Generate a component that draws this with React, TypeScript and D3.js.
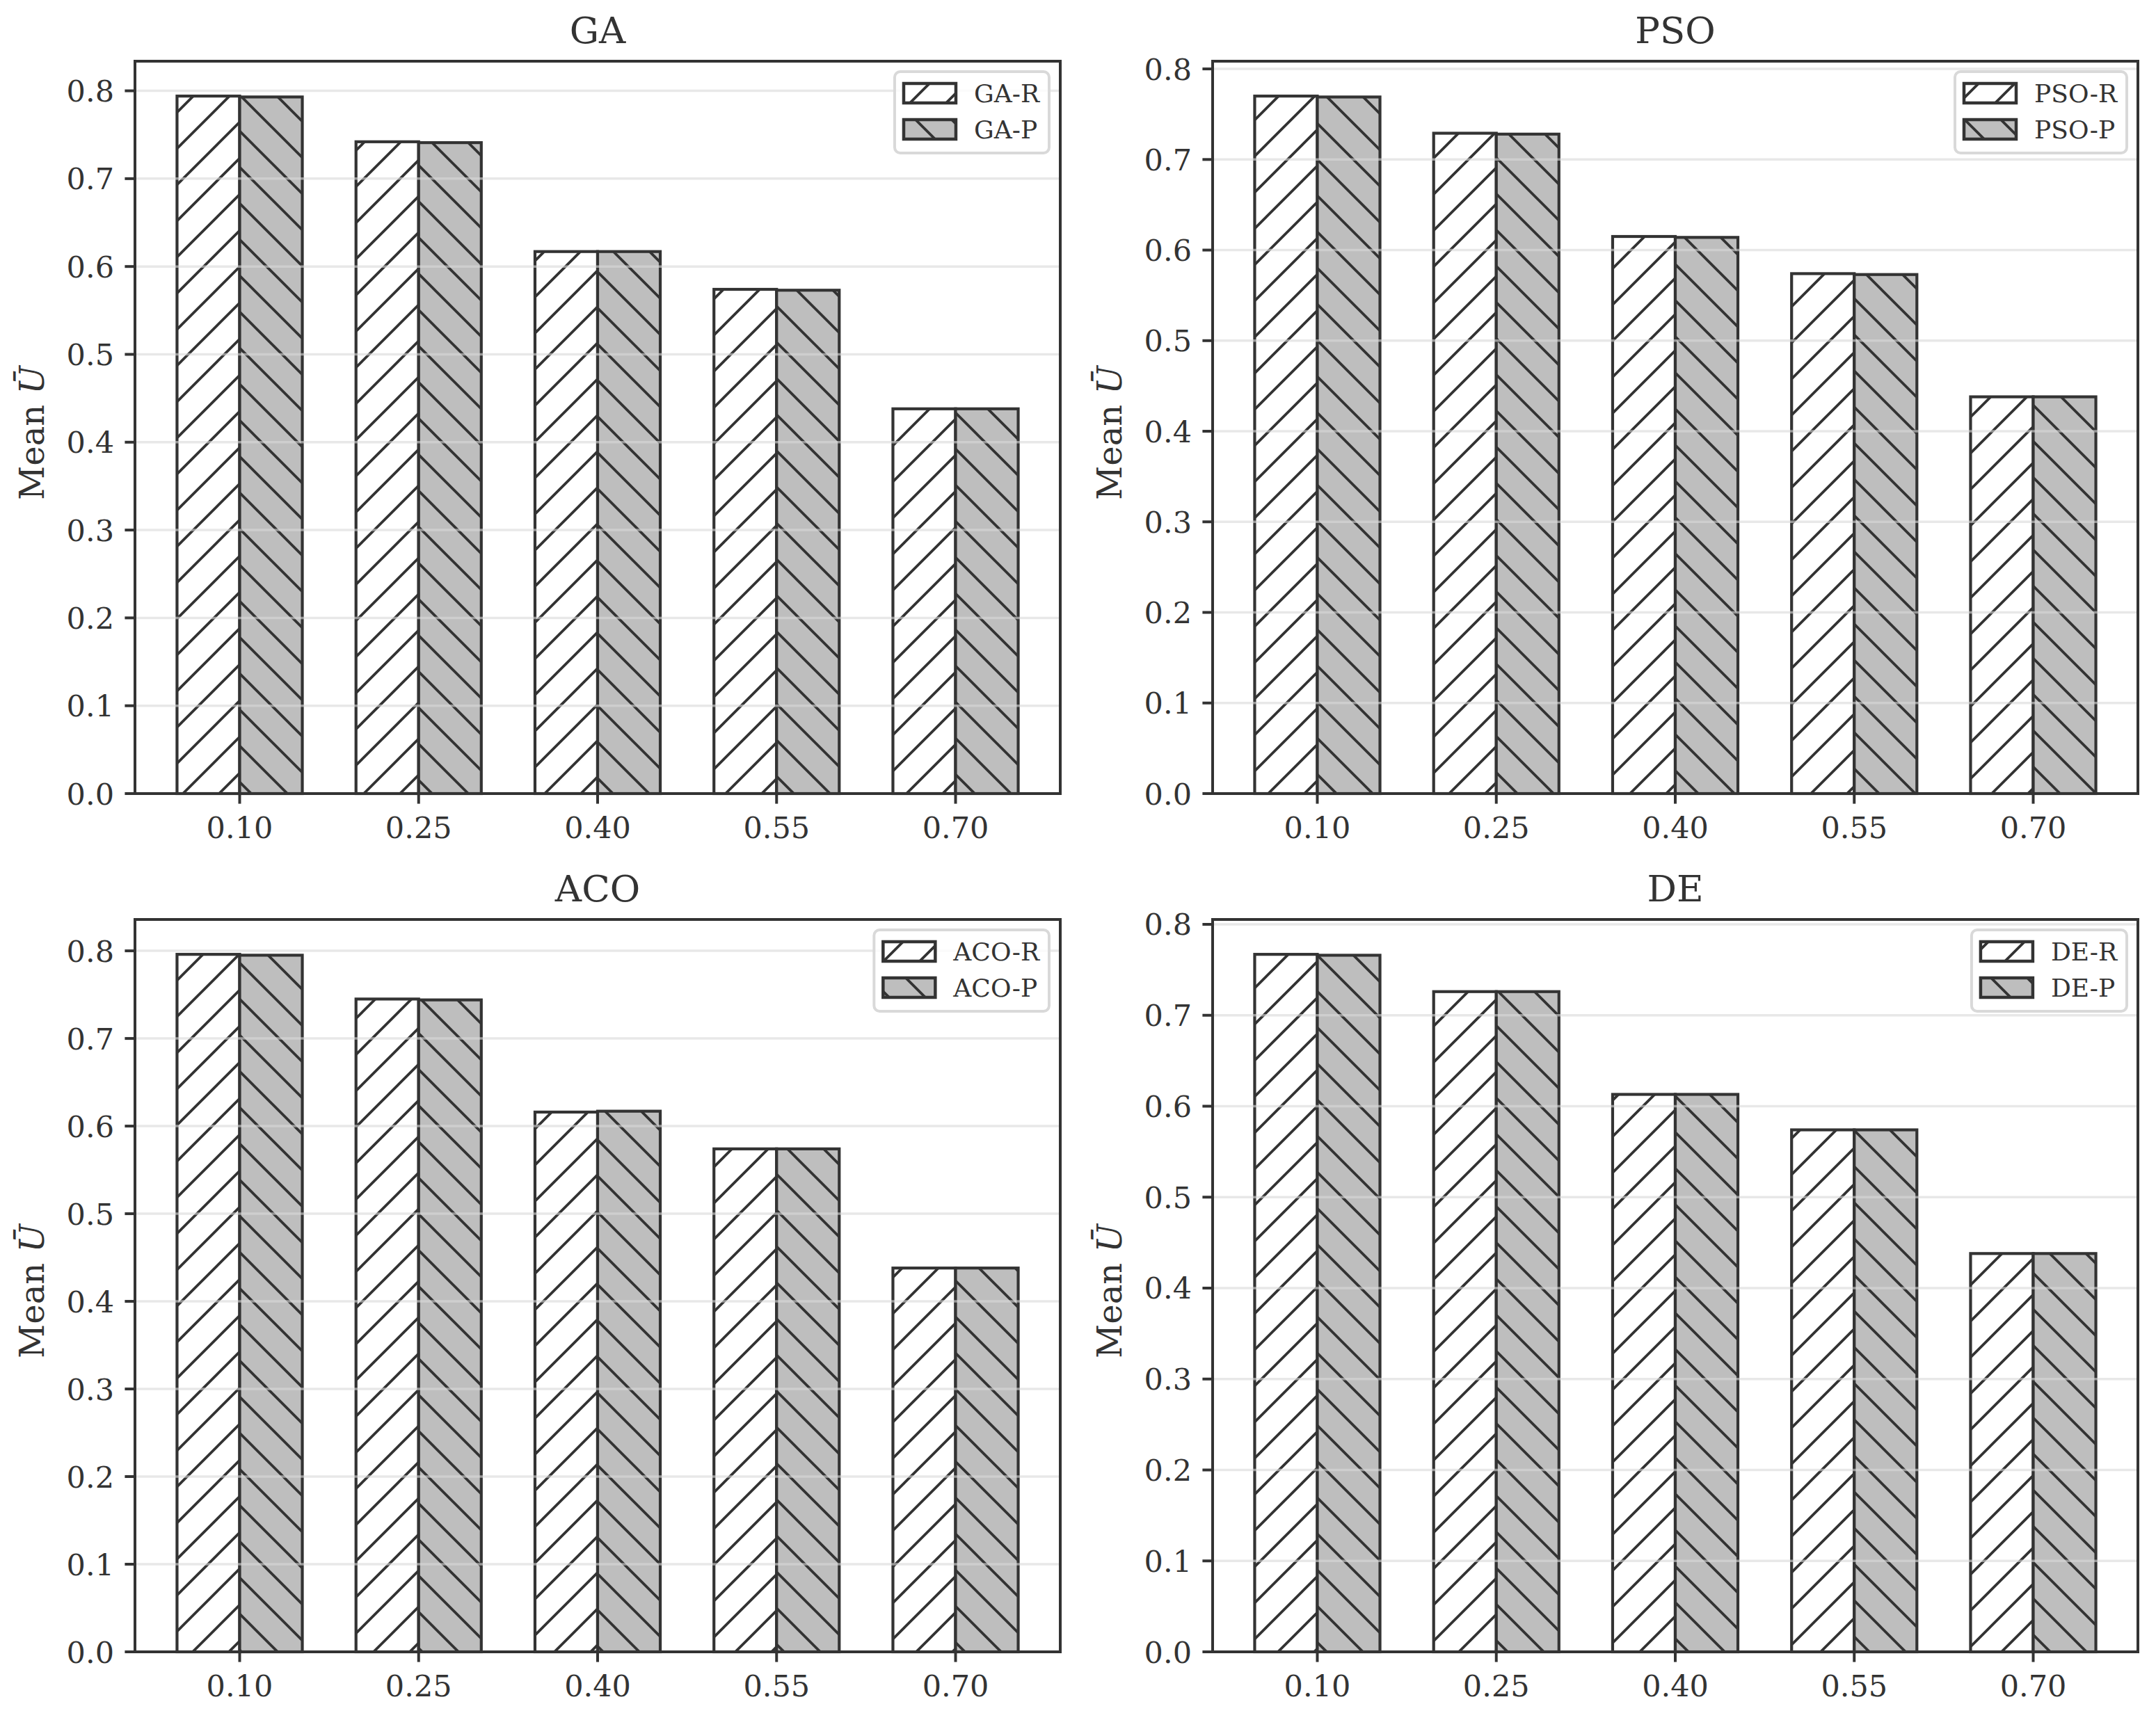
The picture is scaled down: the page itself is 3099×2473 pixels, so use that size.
import { useEffect, useRef } from 'react';
import * as d3 from 'd3';

const categories = ['0.10', '0.25', '0.40', '0.55', '0.70'];
const algorithms = ['GA', 'PSO', 'ACO', 'DE'];

const gaR = [0.794, 0.742, 0.617, 0.574, 0.438];
const gaP = [0.793, 0.741, 0.617, 0.573, 0.438];
const psoR = [0.770, 0.729, 0.615, 0.574, 0.438];
const psoP = [0.769, 0.728, 0.614, 0.573, 0.438];
const acoR = [0.796, 0.745, 0.616, 0.574, 0.438];
const acoP = [0.795, 0.744, 0.617, 0.574, 0.438];
const deR = [0.767, 0.726, 0.613, 0.574, 0.438];
const deP = [0.766, 0.726, 0.613, 0.574, 0.438];

const yTicks = [0, 0.1, 0.2, 0.3, 0.4, 0.5, 0.6, 0.7, 0.8];

const W = 3099;
const H = 2473;
const FONT = '"DejaVu Serif", "Liberation Serif", serif';
const INK = '#333333';
const GRAY = '#bebebe';

export default function App() {
  const svgRef = useRef<SVGSVGElement>(null);

  useEffect(() => {
    if (!svgRef.current) return;
    const svg = d3.select(svgRef.current);
    svg.selectAll('*').remove();

    svg.append('rect').attr('width', W).attr('height', H).attr('fill', '#fff');

    // hatch patterns (one line per cell, 45 degrees)
    const defs = svg.append('defs');
    const cell = 52;
    defs.append('pattern')
      .attr('id', 'hatchR').attr('patternUnits', 'userSpaceOnUse')
      .attr('width', cell).attr('height', cell)
      .append('path')
      .attr('d', `M0,${cell} L${cell},0 M-10,10 L10,-10 M${cell - 10},${cell + 10} L${cell + 10},${cell - 10}`)
      .attr('stroke', INK).attr('stroke-width', 3.8).attr('fill', 'none');
    defs.append('pattern')
      .attr('id', 'hatchP').attr('patternUnits', 'userSpaceOnUse')
      .attr('width', cell).attr('height', cell)
      .append('path')
      .attr('d', `M0,0 L${cell},${cell} M-10,${cell - 10} L10,${cell + 10} M${cell - 10},-10 L${cell + 10},10`)
      .attr('stroke', INK).attr('stroke-width', 3.8).attr('fill', 'none');

    const series = [
      { r: gaR, p: gaP },
      { r: psoR, p: psoP },
      { r: acoR, p: acoP },
      { r: deR, p: deP },
    ];
    const lefts = [194, 1743];
    const tops = [88, 1322];
    const pw = 1330;
    const ph = 1053;
    const barW = 0.35;

    algorithms.forEach((name, k) => {
      const x0 = lefts[k % 2];
      const y0 = tops[Math.floor(k / 2)];
      const { r, p } = series[k];
      const maxV = d3.max([...r, ...p]) as number;

      const x = d3.scaleLinear().domain([-0.585, 4.585]).range([x0, x0 + pw]);
      const y = d3.scaleLinear().domain([0, maxV * 1.05]).range([y0 + ph, y0]);

      const g = svg.append('g');

      // bars
      const drawBar = (xa: number, xb: number, v: number, fill: string, hatch: string) => {
        const rx = x(xa), rw = x(xb) - x(xa), ry = y(v), rh = y(0) - y(v);
        g.append('rect').attr('x', rx).attr('y', ry).attr('width', rw).attr('height', rh).attr('fill', fill);
        g.append('rect').attr('x', rx).attr('y', ry).attr('width', rw).attr('height', rh)
          .attr('fill', `url(#${hatch})`).attr('stroke', INK).attr('stroke-width', 4.2);
      };
      categories.forEach((_, i) => {
        drawBar(i - barW, i, r[i], '#ffffff', 'hatchR');
        drawBar(i, i + barW, p[i], GRAY, 'hatchP');
      });

      // grid on top, semi transparent
      g.selectAll('line.grid').data(yTicks.filter(t => t > 0)).enter().append('line')
        .attr('x1', x0).attr('x2', x0 + pw)
        .attr('y1', d => y(d)).attr('y2', d => y(d))
        .attr('stroke', '#d8d8d8').attr('stroke-opacity', 0.6).attr('stroke-width', 3.5);

      // legend
      const lg = g.append('g');
      const fs = 36;
      const labels = [`${name}-R`, `${name}-P`];
      const texts = labels.map(t =>
        lg.append('text').attr('font-family', FONT).attr('font-size', fs).attr('fill', INK).text(t));
      const tw = d3.max(texts.map(t => (t.node() as SVGTextElement).getComputedTextLength())) as number;
      const boxW = 13 + 75 + 26 + tw + 14;
      const boxRight = x0 + pw - 16;
      const boxLeft = boxRight - boxW;
      const boxTop = y0 + 15;
      lg.insert('rect', 'text')
        .attr('x', boxLeft).attr('y', boxTop).attr('width', boxW).attr('height', 117)
        .attr('rx', 8).attr('fill', '#ffffff').attr('fill-opacity', 0.8)
        .attr('stroke', '#d9d9d9').attr('stroke-width', 4);
      const rowC = [boxTop + 31, boxTop + 83];
      [['#ffffff', 'hatchR'], [GRAY, 'hatchP']].forEach(([fill, hatch], j) => {
        const px = boxLeft + 13, py = rowC[j] - 14;
        lg.insert('rect', 'text').attr('x', px).attr('y', py).attr('width', 75).attr('height', 28).attr('fill', fill);
        lg.insert('rect', 'text').attr('x', px).attr('y', py).attr('width', 75).attr('height', 28)
          .attr('fill', `url(#${hatch})`).attr('stroke', INK).attr('stroke-width', 4.5);
        texts[j].attr('x', px + 75 + 26).attr('y', rowC[j] + 13);
      });

      // spines
      g.append('rect').attr('x', x0).attr('y', y0).attr('width', pw).attr('height', ph)
        .attr('fill', 'none').attr('stroke', INK).attr('stroke-width', 4);

      // y ticks
      yTicks.forEach(t => {
        g.append('line').attr('x1', x0 - 14.6).attr('x2', x0).attr('y1', y(t)).attr('y2', y(t))
          .attr('stroke', INK).attr('stroke-width', 4);
        g.append('text').attr('x', x0 - 30).attr('y', y(t) + 15.5)
          .attr('text-anchor', 'end').attr('font-family', FONT).attr('font-size', 43).attr('fill', INK)
          .text(t.toFixed(1));
      });

      // x ticks
      categories.forEach((c, i) => {
        g.append('line').attr('x1', x(i)).attr('x2', x(i)).attr('y1', y0 + ph).attr('y2', y0 + ph + 14.6)
          .attr('stroke', INK).attr('stroke-width', 4);
        g.append('text').attr('x', x(i)).attr('y', y0 + ph + 64)
          .attr('text-anchor', 'middle').attr('font-family', FONT).attr('font-size', 43).attr('fill', INK)
          .text(c);
      });

      // title
      g.append('text').attr('x', x0 + pw / 2).attr('y', y0 - 26)
        .attr('text-anchor', 'middle').attr('font-family', FONT).attr('font-size', 53).attr('fill', INK)
        .text(name);

      // y label
      const yl = g.append('text')
        .attr('transform', `translate(${x0 - 131},${y0 + ph / 2 + 8}) rotate(-90)`)
        .attr('text-anchor', 'middle').attr('font-family', FONT).attr('font-size', 48).attr('fill', INK);
      yl.append('tspan').text('Mean ');
      yl.append('tspan').attr('font-style', 'italic').text('Ū');
    });
  }, []);

  return (
    <svg
      ref={svgRef}
      width={W}
      height={H}
      style={{ position: 'absolute', left: 0, top: 0, display: 'block' }}
    />
  );
}
